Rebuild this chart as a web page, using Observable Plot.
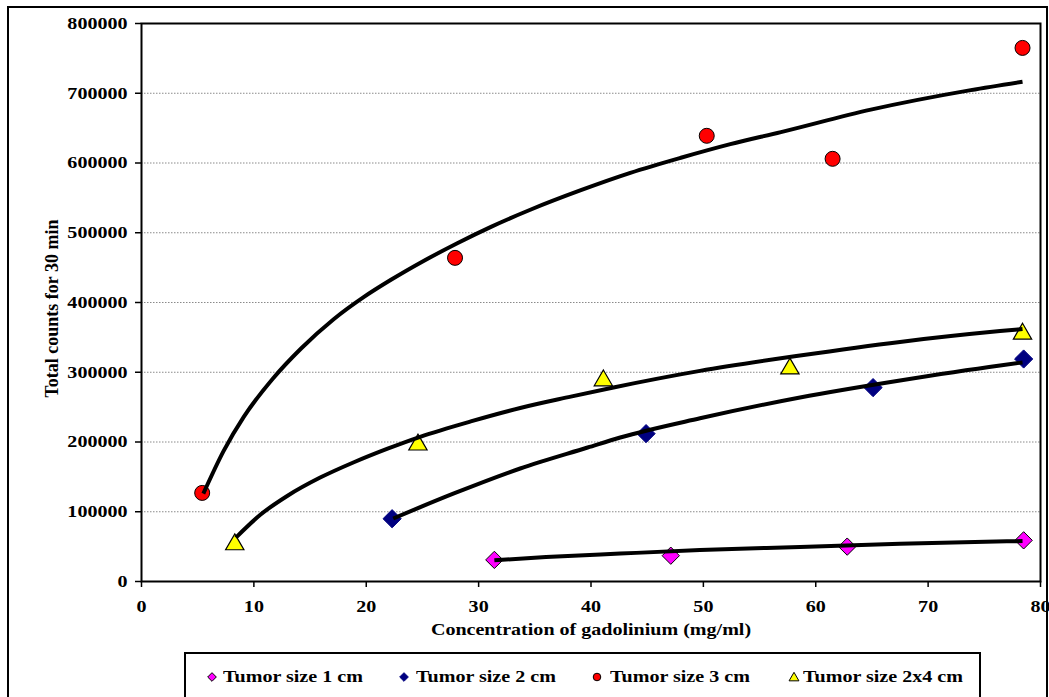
<!DOCTYPE html>
<html>
<head>
<meta charset="utf-8">
<script src="https://cdn.jsdelivr.net/npm/d3@7"></script>
<script src="https://cdn.jsdelivr.net/npm/@observablehq/plot@0.6"></script>
<style>
  html, body { margin: 0; padding: 0; background: #fff; width: 1049px; height: 697px; overflow: hidden; }
  #outer { position: absolute; left: 7px; top: 6px; width: 1041px; height: 740px; border: 2px solid #000; box-sizing: border-box; }
  #chart { position: absolute; left: 0; top: 0; }
  #legend { position: absolute; left: 184px; top: 652px; width: 797px; height: 80px; border: 2px solid #000; box-sizing: border-box; background: #fff; }
  .ltext { position: absolute; font: bold 17px "Liberation Serif", "Times New Roman", serif; line-height: 18px; white-space: nowrap; transform: scaleX(1.18); transform-origin: left center; color: #000; }
  .lmark { position: absolute; }
</style>
</head>
<body>
<div id="outer"></div>
<div id="chart"></div>
<div id="legend"></div>
<script>
// ---- data ----
const xTicks = [0, 10, 20, 30, 40, 50, 60, 70, 80];
const yTicks = [0, 100000, 200000, 300000, 400000, 500000, 600000, 700000, 800000];

const seriesNames = ["Tumor size 1 cm", "Tumor size 2 cm", "Tumor size 3 cm", "Tumor size 2x4 cm"];
const seriesColors = ["#FF00FF", "#000080", "#FF0000", "#FFFF00"];

// measured points
const size1X = [31.4, 47.1, 62.8, 78.5];
const size1Y = [31000, 37000, 50000, 59000];
const size2X = [22.3, 44.9, 65.1, 78.5];
const size2Y = [90000, 212000, 278000, 319000];
const size3X = [5.4, 27.9, 50.3, 61.5, 78.4];
const size3Y = [127000, 464000, 639000, 606000, 765000];
const size2x4X = [8.3, 24.6, 41.1, 57.7, 78.4];
const size2x4Y = [56000, 199000, 291000, 308000, 358000];

// trend lines
const trend1X = [31.4, 36.0, 42.6, 49.7, 58.6, 67.5, 78.4];
const trend1Y = [30500, 35000, 40000, 45000, 49500, 54000, 58000];
const trend2X = [22.4, 27.8, 33.7, 39.7, 42.6, 49.7, 58.6, 67.5, 76.4, 78.4];
const trend2Y = [90300, 126200, 162000, 192100, 206500, 234000, 263800, 288200, 309700, 314000];
const trend3X = [5.5, 7.3, 9.1, 11.7, 14.2, 17.1, 19.8, 22.2, 25.1, 28.1, 31.1, 34.6, 39.1, 43.5, 48.0, 52.4, 56.9, 64.9, 73.8, 78.4];
const trend3Y = [126000, 187000, 236000, 291000, 334000, 376000, 408000, 432500, 459500, 485000, 508500, 533000, 561000, 585800, 607500, 627000, 644300, 676500, 704500, 716500];
const trend2x4X = [8.4, 10.6, 13.0, 15.9, 18.9, 21.9, 24.8, 29.3, 33.7, 38.2, 42.0, 49.7, 58.6, 67.5, 76.4, 78.4];
const trend2x4Y = [63000, 96000, 123000, 149000, 171000, 190500, 207500, 229500, 248700, 265000, 278200, 302000, 324000, 343500, 359000, 362000];

const xLabel = "Concentration of gadolinium (mg/ml)";
const yLabel = "Total counts for 30 min";

// ---- tables ----
const toRows = (xs, ys) => xs.map((x, i) => ({x, y: ys[i]}));
const s1 = toRows(size1X, size1Y), s2 = toRows(size2X, size2Y), s3 = toRows(size3X, size3Y), s4 = toRows(size2x4X, size2x4Y);
const t1 = toRows(trend1X, trend1Y), t2 = toRows(trend2X, trend2Y), t3 = toRows(trend3X, trend3Y), t4 = toRows(trend2x4X, trend2x4Y);

const font = '"Liberation Serif", "Times New Roman", serif';
const lineOpts = {x: "x", y: "y", stroke: "#000", strokeWidth: 4, curve: "monotone-x", strokeLinecap: "butt"};

const chart = Plot.plot({
  width: 1049,
  height: 640,
  marginLeft: 141,
  marginRight: 9,
  marginTop: 23,
  marginBottom: 59,
  style: {fontFamily: font, fontSize: "17px", fontWeight: "bold", background: "transparent", overflow: "visible", color: "#000"},
  x: {domain: [0, 80], label: null},
  y: {domain: [0, 800000], label: null},
  marks: [
    Plot.gridY(yTicks.slice(1, -1), {stroke: "#8a8a8a", strokeOpacity: 1, strokeWidth: 1, strokeDasharray: "1.5,1.5"}),
    Plot.frame({stroke: "#000", strokeWidth: 2}),
    Plot.axisY(yTicks, {tickSize: 6, tickPadding: 8, tickFormat: d3.format("d"), strokeWidth: 1.5, label: null}),
    Plot.axisX(xTicks, {tickSize: 6, tickPadding: 12, tickFormat: d3.format("d"), strokeWidth: 1.5, label: null}),
    Plot.dot(s1, {x: "x", y: "y", symbol: "diamond2", r: 7.8, fill: seriesColors[0], stroke: "#000", strokeWidth: 1}),
    Plot.dot(s2, {x: "x", y: "y", symbol: "diamond2", r: 8.2, fill: seriesColors[1], stroke: seriesColors[1], strokeWidth: 1}),
    Plot.dot(s3, {x: "x", y: "y", symbol: "circle", r: 7.5, fill: seriesColors[2], stroke: "#000", strokeWidth: 1}),
    Plot.dot(s4, {x: "x", y: "y", symbol: "triangle", r: 6.8, dy: 2, fill: seriesColors[3], stroke: "#000", strokeWidth: 1.2}),
    Plot.line(t1, lineOpts),
    Plot.line(t2, lineOpts),
    Plot.line(t3, lineOpts),
    Plot.line(t4, lineOpts),
    Plot.text([xLabel], {text: d => d, frameAnchor: "bottom", textAnchor: "middle", dy: 53, fontSize: 17, fontWeight: "bold"}),
    Plot.text([yLabel], {text: d => d, frameAnchor: "left", textAnchor: "middle", rotate: -90, dx: -89, dy: 6, fontSize: 18, fontWeight: "bold"})
  ]
});
document.getElementById("chart").appendChild(chart);

// widen horizontal texts (the reference's text is horizontally stretched)
const SX = 1.18;
chart.querySelectorAll("text").forEach(el => {
  const tr = el.getAttribute("transform") || "";
  if (/rotate/.test(tr)) return;
  if (/translate/.test(tr)) {
    el.setAttribute("transform", tr + ` scale(${SX},1)`);
  } else {
    const ax = +(el.getAttribute("x") || 0), ay = +(el.getAttribute("y") || 0);
    el.setAttribute("transform", `translate(${ax},${ay}) scale(${SX},1) translate(${-ax},${-ay})`);
  }
});

// ---- legend ----
const legendMarkX = [212, 404, 597, 794];
const legendTextX = [223, 416, 610, 803];
const legendCY = 677;
const legendSymbols = ["diamond2", "diamond2", "circle", "triangle"];
const legendStrokes = ["#000", "#000080", "#000", "#000"];
seriesNames.forEach((name, i) => {
  const m = document.createElementNS("http://www.w3.org/2000/svg", "svg");
  m.setAttribute("width", 16); m.setAttribute("height", 16);
  m.setAttribute("class", "lmark");
  m.style.left = (legendMarkX[i] - 8) + "px";
  m.style.top = (legendCY - 8) + "px";
  const p = document.createElementNS("http://www.w3.org/2000/svg", "path");
  const sym = legendSymbols[i] === "diamond2" ? d3.symbolDiamond2 : legendSymbols[i] === "circle" ? d3.symbolCircle : d3.symbolTriangle;
  const size = legendSymbols[i] === "triangle" ? 42 : legendSymbols[i] === "circle" ? 45 : 48;
  p.setAttribute("d", d3.symbol(sym, size)());
  p.setAttribute("transform", legendSymbols[i] === "triangle" ? "translate(8,9)" : "translate(8,8)");
  p.setAttribute("fill", seriesColors[i]);
  p.setAttribute("stroke", legendStrokes[i]);
  p.setAttribute("stroke-width", 1);
  m.appendChild(p);
  document.body.appendChild(m);
  const t = document.createElement("div");
  t.className = "ltext";
  t.textContent = name;
  t.style.left = legendTextX[i] + "px";
  t.style.top = (legendCY - 9) + "px";
  document.body.appendChild(t);
});
</script>
</body>
</html>
